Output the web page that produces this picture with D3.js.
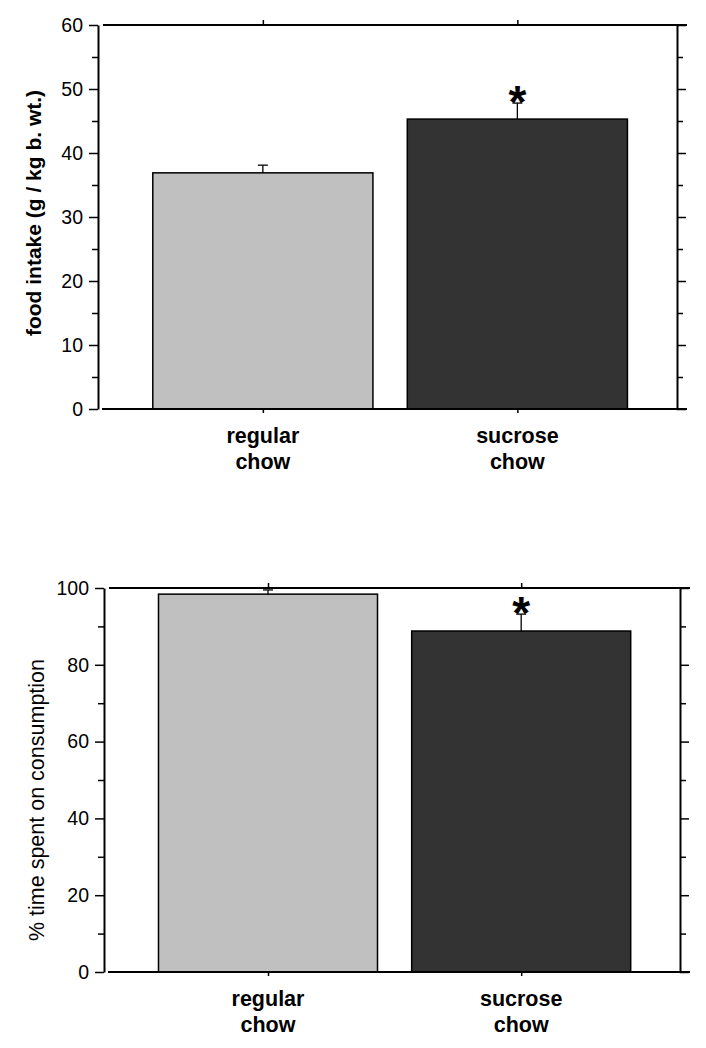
<!DOCTYPE html>
<html>
<head>
<meta charset="utf-8">
<script src="https://cdn.jsdelivr.net/npm/d3@7/dist/d3.min.js"></script>
<style>
  html, body { margin: 0; padding: 0; background: #fff; }
  svg { display: block; }
  text { font-family: "Liberation Sans", Arial, sans-serif; fill: #000; }
</style>
</head>
<body>
<svg id="chart" width="706" height="1048"></svg>
<script>
// ---- data ----
const categories = ["regular chow", "sucrose chow"];
const categoryLines = [["regular", "chow"], ["sucrose", "chow"]];
const barColors = ["#c0c0c0", "#333333"];
const significant = [false, true];

const intakeValues = [36.9, 45.3];
const intakeErrors = [1.2, 2.5];
const intakeMajorTicks = [0, 10, 20, 30, 40, 50, 60];
const intakeMinorTicks = [5, 15, 25, 35, 45, 55];

const timeValues = [98.4, 88.8];
const timeErrors = [1.1, 4.4];
const timeMajorTicks = [0, 20, 40, 60, 80, 100];
const timeMinorTicks = [10, 30, 50, 70, 90];

const svg = d3.select("#chart");

function drawPanel(cfg) {
  const g = svg.append("g");
  const x = d3.scaleBand().domain(categories)
    .range([cfg.left, cfg.right])
    .paddingInner(0.135).paddingOuter(0.205).align(0.525);
  const y = d3.scaleLinear().domain(cfg.domain).range([cfg.bottom, cfg.top]);

  // bars
  g.selectAll("rect.bar").data(categories).enter().append("rect")
    .attr("x", d => x(d))
    .attr("width", x.bandwidth())
    .attr("y", (d, i) => y(cfg.values[i]))
    .attr("height", (d, i) => y(0) - y(cfg.values[i]))
    .attr("fill", (d, i) => barColors[i])
    .attr("stroke", "#000").attr("stroke-width", 1.5);

  // error bars
  categories.forEach((c, i) => {
    const cx = x(c) + x.bandwidth() / 2;
    const yt = y(cfg.values[i] + cfg.errors[i]);
    g.append("line").attr("x1", cx).attr("x2", cx)
      .attr("y1", y(cfg.values[i])).attr("y2", yt)
      .attr("stroke", "#000").attr("stroke-width", 1.3);
    g.append("line").attr("x1", cx - 5).attr("x2", cx + 5)
      .attr("y1", yt).attr("y2", yt)
      .attr("stroke", "#000").attr("stroke-width", 1.3);
    if (significant[i]) {
      g.append("text").attr("x", cx).attr("y", yt + 15)
        .attr("text-anchor", "middle")
        .attr("font-size", 46).attr("font-weight", "bold")
        .text("*");
    }
  });

  // frame lines
  const frame = g.append("g").attr("stroke", "#000").attr("stroke-width", 2);
  frame.append("line").attr("x1", cfg.left + 4).attr("x2", cfg.right + 10)
    .attr("y1", y(cfg.domain[0])).attr("y2", y(cfg.domain[0]));
  frame.append("line").attr("x1", cfg.left + 5).attr("x2", cfg.right + 10)
    .attr("y1", y(cfg.domain[1])).attr("y2", y(cfg.domain[1]));

  // left axis
  const left = g.append("g").attr("transform", `translate(${cfg.left},0)`)
    .call(d3.axisLeft(y).tickValues(cfg.major).tickSizeInner(9).tickSizeOuter(0).tickPadding(6));
  left.select(".domain").attr("stroke-width", 2);
  left.selectAll(".tick line").attr("stroke-width", 1.5);
  left.selectAll(".tick text").attr("font-size", 19.5)
    .style("font-family", '"Liberation Sans", Arial, sans-serif');
  g.append("g").attr("transform", `translate(${cfg.left},0)`)
    .call(d3.axisLeft(y).tickValues(cfg.minor).tickSize(6).tickFormat(""))
    .call(s => { s.select(".domain").remove(); s.selectAll(".tick line").attr("stroke-width", 1.5); });

  // right axis
  const right = g.append("g").attr("transform", `translate(${cfg.right},0)`)
    .call(d3.axisRight(y).tickValues(cfg.major).tickSizeInner(9).tickSizeOuter(0).tickFormat(""));
  right.select(".domain").attr("stroke-width", 2);
  right.selectAll(".tick line").attr("stroke-width", 1.5);
  g.append("g").attr("transform", `translate(${cfg.right},0)`)
    .call(d3.axisRight(y).tickValues(cfg.minor).tickSize(6).tickFormat(""))
    .call(s => { s.select(".domain").remove(); s.selectAll(".tick line").attr("stroke-width", 1.5); });

  // category ticks (top outward, bottom outward)
  const xc = d3.scalePoint().domain(categories).range([x(categories[0]) + x.bandwidth() / 2, x(categories[1]) + x.bandwidth() / 2]);
  g.append("g").attr("transform", `translate(0,${cfg.top})`)
    .call(d3.axisTop(xc).tickSize(5).tickSizeOuter(0).tickFormat(""))
    .call(s => { s.select(".domain").remove(); s.selectAll(".tick line").attr("stroke-width", 1.5); });
  g.append("g").attr("transform", `translate(0,${cfg.bottom})`)
    .call(d3.axisBottom(xc).tickSize(4).tickSizeOuter(0).tickFormat(""))
    .call(s => { s.select(".domain").remove(); s.selectAll(".tick line").attr("stroke-width", 1.5); });

  // category labels
  categories.forEach((c, i) => {
    const t = g.append("text").attr("text-anchor", "middle")
      .attr("font-size", 21.5).attr("font-weight", "bold");
    categoryLines[i].forEach((ln, k) => {
      t.append("tspan").attr("x", xc(c)).attr("y", cfg.bottom + 34 + k * 26).text(ln);
    });
  });

  // y title
  g.append("text")
    .attr("transform", `translate(${cfg.titleX},${cfg.titleY}) rotate(-90)`)
    .attr("text-anchor", "middle")
    .attr("font-size", cfg.titleSize).attr("font-weight", cfg.titleWeight)
    .text(cfg.title);
}

drawPanel({
  left: 98, right: 677, top: 25, bottom: 409,
  domain: [0, 60], major: intakeMajorTicks, minor: intakeMinorTicks,
  values: intakeValues, errors: intakeErrors,
  title: "food intake (g / kg b. wt.)", titleX: 41, titleY: 213, titleSize: 21, titleWeight: "bold"
});

drawPanel({
  left: 104, right: 680, top: 588, bottom: 972,
  domain: [0, 100], major: timeMajorTicks, minor: timeMinorTicks,
  values: timeValues, errors: timeErrors,
  title: "% time spent on consumption", titleX: 44, titleY: 800, titleSize: 21.5, titleWeight: "normal"
});
</script>
</body>
</html>
